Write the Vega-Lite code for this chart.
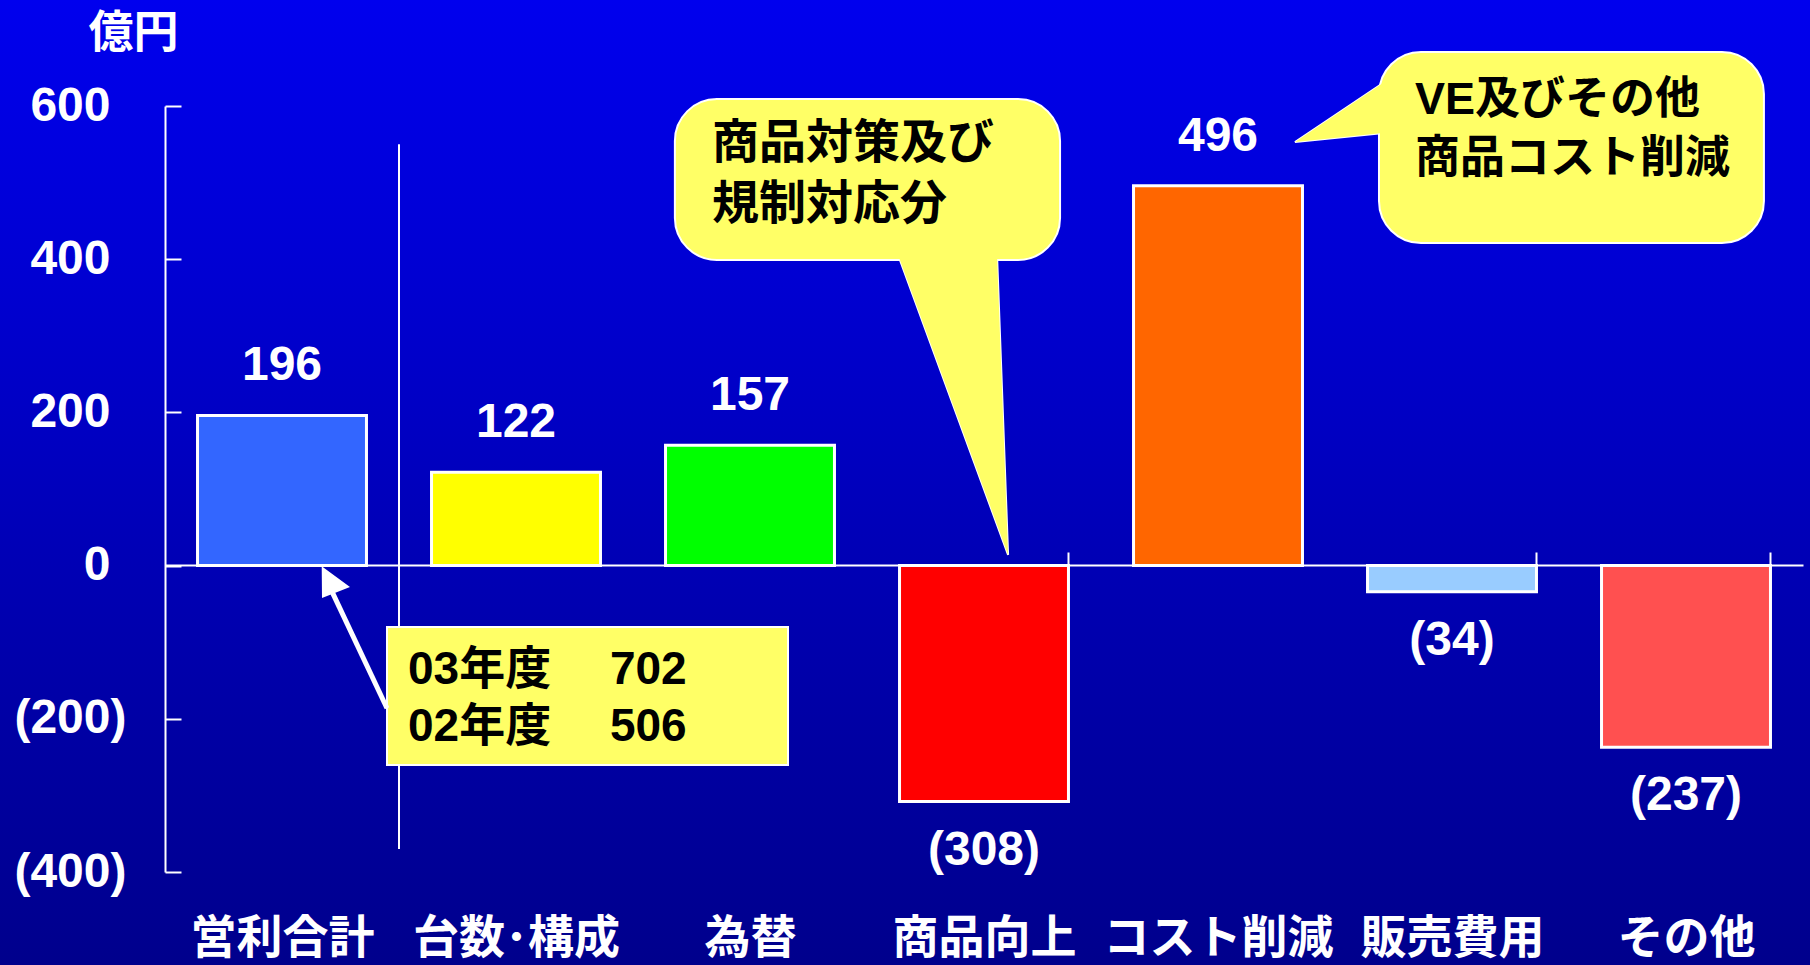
{
  "$schema": "https://vega.github.io/schema/vega-lite/v6.json",
  "width": 1810,
  "height": 965,
  "autosize": "none",
  "padding": 0,
  "background": "#0000c0",
  "view": {
    "stroke": null,
    "fill": {"gradient": "linear", "x1": 0, "y1": 0, "x2": 0, "y2": 1,
      "stops": [{"offset": 0, "color": "#0000ee"}, {"offset": 1, "color": "#00008c"}]}
  },
  "config": {"view": {"stroke": null}},
  "datasets": {
    "bars": [
      {"category": "営利合計", "value": 196},
      {"category": "台数･構成", "value": 122},
      {"category": "為替", "value": 157},
      {"category": "商品向上", "value": -308},
      {"category": "コスト削減", "value": 496},
      {"category": "販売費用", "value": -34},
      {"category": "その他", "value": -237}
    ],
    "sep": [{"ax": 1, "v": 550, "v2": -370}],
    "tail1": [{"v": 403, "ax": 3.136, "ax2": 3.556}, {"v": 14, "ax": 3.603, "ax2": 3.603}],
    "tail2": [{"ax": 4.829, "v": 553, "v2": 553}, {"ax": 5.205, "v": 630, "v2": 564.6}],
    "bubbles": [
      {"ax": 2.179, "ax2": 3.825, "v": 609, "v2": 399},
      {"ax": 5.188, "ax2": 6.833, "v": 670.6, "v2": 421.1}
    ],
    "box": [{"ax": 0.9487, "ax2": 2.6624, "v": -80.2, "v2": -260.3}],
    "arrow": [{"ax": 0.9487, "v": -186.2, "ax2": 0.7137, "v2": -34}],
    "arrowhead": [
      {"v": -1, "ax": 0.6697, "ax2": 0.6697},
      {"v": -28, "ax": 0.6705, "ax2": 0.7906},
      {"v": -42.3, "ax": 0.6709, "ax2": 0.6709}
    ],
    "text1": [
      {"ax": 2.338, "v": 551, "t": "商品対策及び"},
      {"ax": 2.338, "v": 470.7, "t": "規制対応分"}
    ],
    "text2": [
      {"ax": 5.342, "v": 607.8, "t": "VE及びその他"},
      {"ax": 5.342, "v": 530.2, "t": "商品コスト削減"}
    ],
    "text3": [
      {"ax": 1.0385, "v": -136.3, "t": "03年度　 702"},
      {"ax": 1.0385, "v": -210.7, "t": "02年度　 506"}
    ]
  },
  "layer": [
    {
      "data": {"name": "bars"},
      "encoding": {
        "x": {
          "field": "category", "type": "nominal", "sort": null,
          "scale": {"range": [165, 1803], "paddingInner": 0.278, "paddingOuter": 0.139},
          "axis": {
            "orient": "bottom", "offset": -400, "title": null, "grid": false,
            "domainColor": "white", "domainWidth": 2,
            "tickBand": "extent", "tickSize": -13, "tickColor": "white", "tickWidth": 2,
            "labelColor": "white", "labelFont": "Noto Sans CJK JP", "labelFontWeight": "bold",
            "labelFontSize": 46, "labelPadding": 386, "labelBaseline": "middle", "labelAngle": 0,
            "labelOverlap": false, "labelLimit": 0
          }
        },
        "y": {
          "field": "value", "type": "quantitative",
          "scale": {"domain": [-400, 600], "range": [872, 106], "nice": false, "zero": false},
          "axis": {
            "values": [-400, -200, 0, 200, 400, 600], "format": "(d",
            "offset": -165, "grid": false,
            "domainColor": "white", "domainWidth": 2,
            "tickColor": "white", "tickWidth": 2, "tickSize": -16,
            "labelColor": "white", "labelFont": "Liberation Sans", "labelFontWeight": "bold",
            "labelFontSize": 48,
            "labelPadding": {"condition": {"test": "datum.value < 0", "value": 55}, "value": 71},
            "title": "億円", "titleAngle": 0, "titleX": -32, "titleY": 33,
            "titleAlign": "center", "titleBaseline": "middle",
            "titleFont": "Noto Sans CJK JP", "titleFontWeight": "bold", "titleFontSize": 45, "titleColor": "white"
          }
        }
      },
      "layer": [
        {
          "mark": {"type": "bar", "stroke": "white", "strokeWidth": 3},
          "encoding": {
            "y2": {"datum": 0},
            "color": {
              "field": "category", "type": "nominal", "legend": null,
              "scale": {
                "domain": ["営利合計", "台数･構成", "為替", "商品向上", "コスト削減", "販売費用", "その他"],
                "range": ["#3366ff", "#ffff00", "#00ff00", "#ff0000", "#ff6600", "#99ccff", "#ff5050"]
              }
            }
          }
        },
        {
          "transform": [{"filter": "datum.value >= 0"}],
          "mark": {"type": "text", "dy": -49, "baseline": "middle", "align": "center", "font": "Liberation Sans", "fontWeight": "bold", "fontSize": 48, "color": "white"},
          "encoding": {"text": {"field": "value", "type": "quantitative", "format": "(d"}}
        },
        {
          "transform": [{"filter": "datum.value < 0"}],
          "mark": {"type": "text", "dy": 49, "baseline": "middle", "align": "center", "font": "Liberation Sans", "fontWeight": "bold", "fontSize": 48, "color": "white"},
          "encoding": {"text": {"field": "value", "type": "quantitative", "format": "(d"}}
        }
      ]
    },
    {
      "layer": [
        {
          "data": {"name": "sep"},
          "mark": {"type": "rule", "color": "white", "strokeWidth": 2},
          "encoding": {
            "x": {"field": "ax", "type": "quantitative", "scale": {"domain": [0, 7], "range": [165, 1803]}, "axis": null},
            "y": {"field": "v", "type": "quantitative", "scale": {"domain": [-400, 600], "range": [872, 106], "nice": false, "zero": false}, "axis": null},
            "y2": {"field": "v2"}
          }
        },
        {
          "data": {"name": "tail1"},
          "mark": {"type": "area", "orient": "horizontal", "fill": "#ffff66", "stroke": "white", "strokeWidth": 2},
          "encoding": {
            "y": {"field": "v", "type": "quantitative", "axis": null},
            "x": {"field": "ax", "type": "quantitative", "stack": null, "axis": null},
            "x2": {"field": "ax2"}
          }
        },
        {
          "data": {"name": "tail2"},
          "mark": {"type": "area", "orient": "vertical", "fill": "#ffff66", "stroke": "white", "strokeWidth": 2},
          "encoding": {
            "x": {"field": "ax", "type": "quantitative", "axis": null},
            "y": {"field": "v", "type": "quantitative", "stack": null, "axis": null},
            "y2": {"field": "v2"}
          }
        },
        {
          "data": {"name": "bubbles"},
          "mark": {"type": "rect", "cornerRadius": 42, "fill": "#ffff66", "stroke": "white", "strokeWidth": 2},
          "encoding": {
            "x": {"field": "ax", "type": "quantitative", "axis": null},
            "x2": {"field": "ax2"},
            "y": {"field": "v", "type": "quantitative", "axis": null},
            "y2": {"field": "v2"}
          }
        },
        {
          "data": {"name": "box"},
          "mark": {"type": "rect", "fill": "#ffff66", "stroke": "white", "strokeWidth": 2},
          "encoding": {
            "x": {"field": "ax", "type": "quantitative", "axis": null},
            "x2": {"field": "ax2"},
            "y": {"field": "v", "type": "quantitative", "axis": null},
            "y2": {"field": "v2"}
          }
        },
        {
          "data": {"name": "tail1"},
          "mark": {"type": "area", "orient": "horizontal", "fill": "#ffff66"},
          "encoding": {
            "y": {"field": "v", "type": "quantitative", "axis": null},
            "x": {"field": "ax", "type": "quantitative", "stack": null, "axis": null},
            "x2": {"field": "ax2"}
          }
        },
        {
          "data": {"name": "tail2"},
          "mark": {"type": "area", "orient": "vertical", "fill": "#ffff66"},
          "encoding": {
            "x": {"field": "ax", "type": "quantitative", "axis": null},
            "y": {"field": "v", "type": "quantitative", "stack": null, "axis": null},
            "y2": {"field": "v2"}
          }
        },
        {
          "data": {"name": "arrow"},
          "mark": {"type": "rule", "color": "white", "strokeWidth": 5},
          "encoding": {
            "x": {"field": "ax", "type": "quantitative", "axis": null},
            "x2": {"field": "ax2"},
            "y": {"field": "v", "type": "quantitative", "axis": null},
            "y2": {"field": "v2"}
          }
        },
        {
          "data": {"name": "arrowhead"},
          "mark": {"type": "area", "orient": "horizontal", "fill": "white"},
          "encoding": {
            "y": {"field": "v", "type": "quantitative", "axis": null},
            "x": {"field": "ax", "type": "quantitative", "stack": null, "axis": null},
            "x2": {"field": "ax2"}
          }
        },
        {
          "data": {"name": "text1"},
          "mark": {"type": "text", "align": "left", "baseline": "middle", "font": "Liberation Sans, Noto Sans CJK JP", "fontWeight": "bold", "fontSize": 47, "color": "black"},
          "encoding": {
            "x": {"field": "ax", "type": "quantitative", "axis": null},
            "y": {"field": "v", "type": "quantitative", "axis": null},
            "text": {"field": "t"}
          }
        },
        {
          "data": {"name": "text2"},
          "mark": {"type": "text", "align": "left", "baseline": "middle", "font": "Liberation Sans, Noto Sans CJK JP", "fontWeight": "bold", "fontSize": 45, "color": "black"},
          "encoding": {
            "x": {"field": "ax", "type": "quantitative", "axis": null},
            "y": {"field": "v", "type": "quantitative", "axis": null},
            "text": {"field": "t"}
          }
        },
        {
          "data": {"name": "text3"},
          "mark": {"type": "text", "align": "left", "baseline": "middle", "font": "Liberation Sans, Noto Sans CJK JP", "fontWeight": "bold", "fontSize": 46, "color": "black"},
          "encoding": {
            "x": {"field": "ax", "type": "quantitative", "axis": null},
            "y": {"field": "v", "type": "quantitative", "axis": null},
            "text": {"field": "t"}
          }
        }
      ]
    }
  ],
  "resolve": {"scale": {"x": "independent", "y": "independent"}}
}
